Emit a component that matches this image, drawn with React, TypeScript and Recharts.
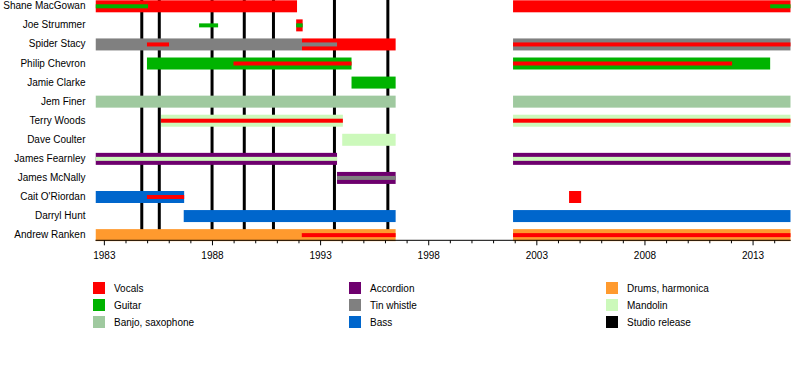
import { BarChart, Bar, XAxis, YAxis, ReferenceLine } from 'recharts';

const FONT = '"Liberation Sans", Arial, sans-serif';

const members = [
  'Shane MacGowan',
  'Joe Strummer',
  'Spider Stacy',
  'Philip Chevron',
  'Jamie Clarke',
  'Jem Finer',
  'Terry Woods',
  'Dave Coulter',
  'James Fearnley',
  'James McNally',
  "Cait O'Riordan",
  'Darryl Hunt',
  'Andrew Ranken',
];

const roles = [
  'Vocals',
  'Guitar',
  'Banjo, saxophone',
  'Accordion',
  'Tin whistle',
  'Bass',
  'Drums, harmonica',
  'Mandolin',
  'Studio release',
];

const ROLE_COLORS: Record<string, string> = {
  Vocals: '#ff0000',
  Guitar: '#00b300',
  'Banjo, saxophone': '#9fc99f',
  Accordion: '#6e006e',
  'Tin whistle': '#808080',
  Bass: '#0066cc',
  'Drums, harmonica': '#ff9a2e',
  Mandolin: '#ccf9bb',
  'Studio release': '#000000',
};

// [member, role, from, to] - full height bars
type Stint = [string, string, number, number];

const mainStints: Stint[] = [
  ['Shane MacGowan', 'Vocals', 1982.59, 1991.91],
  ['Shane MacGowan', 'Vocals', 2001.9, 2014.74],
  ['Joe Strummer', 'Vocals', 1991.87, 1992.17],
  ['Spider Stacy', 'Tin whistle', 1982.59, 1992.14],
  ['Spider Stacy', 'Vocals', 1992.14, 1996.47],
  ['Spider Stacy', 'Tin whistle', 2001.9, 2014.74],
  ['Philip Chevron', 'Guitar', 1984.97, 1994.43],
  ['Philip Chevron', 'Guitar', 2001.9, 2013.79],
  ['Jamie Clarke', 'Guitar', 1994.43, 1996.47],
  ['Jem Finer', 'Banjo, saxophone', 1982.59, 1996.47],
  ['Jem Finer', 'Banjo, saxophone', 2001.9, 2014.74],
  ['Terry Woods', 'Mandolin', 1985.62, 1994.03],
  ['Terry Woods', 'Mandolin', 2001.9, 2014.74],
  ['Dave Coulter', 'Mandolin', 1994.0, 1996.47],
  ['James Fearnley', 'Accordion', 1982.59, 1993.76],
  ['James Fearnley', 'Accordion', 2001.9, 2014.74],
  ['James McNally', 'Accordion', 1993.76, 1996.47],
  ["Cait O'Riordan", 'Bass', 1982.59, 1986.69],
  ["Cait O'Riordan", 'Vocals', 2004.49, 2005.05],
  ['Darryl Hunt', 'Bass', 1986.67, 1996.47],
  ['Darryl Hunt', 'Bass', 2001.9, 2014.74],
  ['Andrew Ranken', 'Drums, harmonica', 1982.59, 1996.47],
  ['Andrew Ranken', 'Drums, harmonica', 2001.9, 2014.74],
];

// secondary roles, drawn as thin bars
const sideStints: Stint[] = [
  ['Shane MacGowan', 'Guitar', 1982.59, 1985.02],
  ['Shane MacGowan', 'Guitar', 2013.79, 2014.74],
  ['Joe Strummer', 'Guitar', 1987.38, 1988.26],
  ['Joe Strummer', 'Guitar', 1991.87, 1992.17],
  ['Spider Stacy', 'Vocals', 1984.97, 1985.99],
  ['Spider Stacy', 'Tin whistle', 1992.14, 1993.76],
  ['Spider Stacy', 'Vocals', 2001.9, 2014.74],
  ['Philip Chevron', 'Vocals', 1988.97, 1994.43],
  ['Philip Chevron', 'Vocals', 2001.9, 2012.03],
  ['Terry Woods', 'Vocals', 1985.62, 1994.03],
  ['Terry Woods', 'Vocals', 2001.9, 2014.74],
  ['James Fearnley', 'Mandolin', 1982.59, 1993.76],
  ['James Fearnley', 'Mandolin', 2001.9, 2014.74],
  ['James McNally', 'Tin whistle', 1993.76, 1996.47],
  ["Cait O'Riordan", 'Vocals', 1984.97, 1986.69],
  ['Andrew Ranken', 'Vocals', 1992.13, 1996.47],
  ['Andrew Ranken', 'Vocals', 2001.9, 2014.74],
];

const studioReleases = [1984.73, 1985.54, 1987.98, 1989.47, 1990.82, 1993.64, 1996.11];

const yearTicks = [
  1983, 1984, 1985, 1986, 1987, 1988, 1989, 1990, 1991, 1992, 1993, 1994, 1995, 1996, 1997, 1998,
  1999, 2000, 2001, 2002, 2003, 2004, 2005, 2006, 2007, 2008, 2009, 2010, 2011, 2012, 2013, 2014,
];
const labelledYears = [1983, 1988, 1993, 1998, 2003, 2008, 2013];

const rows: Record<string, any>[] = members.map((name) => ({ name }));
mainStints.forEach(([member, , from, to], i) => {
  rows[members.indexOf(member)][`main${i}`] = [from, to];
});
sideStints.forEach(([member, , from, to], i) => {
  rows[members.indexOf(member)][`side${i}`] = [from, to];
});

function FullBar(props: any) {
  const { x, y, width, height, fill } = props;
  if (!Number.isFinite(x) || !Number.isFinite(width) || width <= 0) return <g />;
  return <rect x={x} y={y} width={width} height={height} fill={fill} />;
}

function ThinBar(props: any) {
  const { x, y, width, height, fill } = props;
  if (!Number.isFinite(x) || !Number.isFinite(width) || width <= 0) return <g />;
  return <rect x={x} y={y + height / 2 - 2} width={width} height={4} fill={fill} />;
}

function YearTick(props: any) {
  const { x, y, payload } = props;
  const major = labelledYears.includes(payload.value);
  return (
    <g>
      <line x1={x} x2={x} y1={y} y2={y + (major ? 5 : 3)} stroke="#000" />
      {major && (
        <text x={x} y={y + 15} textAnchor="middle" dominantBaseline="central" fontSize={10} fill="#000" fontFamily={FONT}>
          {payload.value}
        </text>
      )}
    </g>
  );
}

function MemberTick(props: any) {
  const { x, y, payload } = props;
  return (
    <text x={x} y={y} dy="0.35em" textAnchor="end" fontSize={10} fill="#000" fontFamily={FONT}>
      {payload.value}
    </text>
  );
}

const LEGEND_COLS = [93, 349, 606];

export default function App() {
  return (
    <div style={{ position: 'absolute', left: 0, top: 0, width: 800, height: 390, background: '#fff', fontFamily: FONT }}>
      <BarChart
        width={800}
        height={390}
        data={rows}
        layout="vertical"
        margin={{ top: -3.7, right: 9.3, bottom: 119.7, left: 0 }}
        barSize={12}
        barGap={-12}
        barCategoryGap={0}
      >
        <XAxis
          type="number"
          domain={[1982.59, 2014.74]}
          allowDataOverflow
          ticks={yearTicks}
          interval={0}
          tick={<YearTick />}
          tickLine={false}
          tickSize={0}
          tickMargin={0}
          height={30}
          axisLine={{ stroke: '#000' }}
        />
        <YAxis
          type="category"
          dataKey="name"
          width={95.5}
          interval={0}
          tickLine={false}
          axisLine={false}
          tickSize={0}
          tickMargin={10}
          padding={{ top: 0, bottom: -3.9 }}
          tick={<MemberTick />}
        />
        {studioReleases.map((yr) => (
          <ReferenceLine key={`rel-${yr}`} x={yr} stroke="#000" strokeWidth={3} zIndex={-10} />
        ))}
        {mainStints.map(([, role], i) => (
          <Bar
            key={`main${i}`}
            dataKey={`main${i}`}
            fill={ROLE_COLORS[role]}
            barSize={12}
            shape={FullBar}
            isAnimationActive={false}
          />
        ))}
        {sideStints.map(([, role], i) => (
          <Bar
            key={`side${i}`}
            dataKey={`side${i}`}
            fill={ROLE_COLORS[role]}
            barSize={12}
            shape={ThinBar}
            isAnimationActive={false}
          />
        ))}
      </BarChart>
      {roles.map((role, i) => (
        <div
          key={role}
          style={{
            position: 'absolute',
            left: LEGEND_COLS[Math.floor(i / 3)],
            top: 282 + (i % 3) * 17,
            height: 12,
            display: 'flex',
            alignItems: 'center',
            fontSize: 10,
            color: '#000',
            whiteSpace: 'nowrap',
          }}
        >
          <span style={{ width: 12, height: 12, background: ROLE_COLORS[role], marginRight: 9, display: 'inline-block' }} />
          {role}
        </div>
      ))}
    </div>
  );
}
